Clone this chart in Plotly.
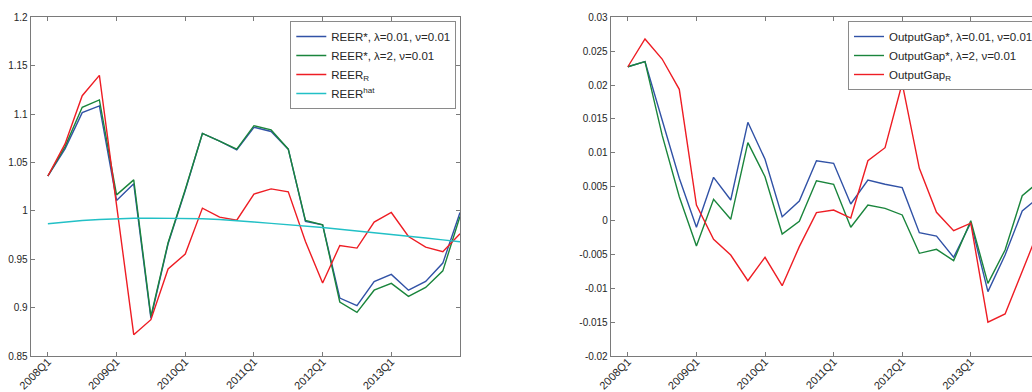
import plotly.graph_objects as go

quarters = [f"{y}Q{q}" for y in range(2008, 2014) for q in range(1, 5)] + ["2014Q1"]

reer_star_l001 = [1.036, 1.064, 1.1015, 1.1084, 1.0107, 1.028, 0.889, 0.966, 1.021, 1.080,
                  1.072, 1.063, 1.0864, 1.082, 1.0637, 0.989, 0.9856, 0.9099, 0.902, 0.927,
                  0.9343, 0.918, 0.927, 0.946, 0.9983]
reer_star_l2 = [1.036, 1.0664, 1.107, 1.1146, 1.0165, 1.032, 0.891, 0.967, 1.022, 1.080,
                1.072, 1.0637, 1.088, 1.0836, 1.0637, 0.990, 0.9856, 0.9058, 0.895, 0.918,
                0.925, 0.9116, 0.9208, 0.938, 0.9941]
reer_r = [1.036, 1.0692, 1.119, 1.140, 1.006, 0.872, 0.8875, 0.940, 0.9553, 1.0028,
          0.9935, 0.9904, 1.0173, 1.0227, 1.0196, 0.9683, 0.9254, 0.9642, 0.9615, 0.9884,
          0.9983, 0.9735, 0.9625, 0.9577, 0.9763]
reer_hat = [0.9866, 0.9885, 0.990, 0.991, 0.992, 0.9923, 0.9925, 0.9925, 0.9922, 0.9918,
            0.991, 0.990, 0.9885, 0.987, 0.9857, 0.9843, 0.9828, 0.981, 0.9793, 0.9775,
            0.976, 0.974, 0.972, 0.970, 0.968]

gap_star_l001 = [0.0227, 0.02345, 0.01484, 0.00623, -0.0010, 0.00638, 0.00303, 0.0145, 0.00904, 0.00057,
                 0.00288, 0.00883, 0.00845, 0.00244, 0.00598, 0.00535, 0.00485, -0.0018, -0.00229, -0.00543,
                 -0.00032, -0.0105, -0.0051, 0.00141, 0.0035]
gap_star_l2 = [0.0227, 0.02345, 0.0126, 0.00352, -0.00376, 0.00313, 0.00018, 0.01149, 0.00647, -0.0020,
               -0.0001, 0.00588, 0.00535, -0.0010, 0.00229, 0.0018, 0.00082, -0.00484, -0.00425, -0.00593,
               -0.00002, -0.00927, -0.00435, 0.00366, 0.0058]
gap_r = [0.0227, 0.0268, 0.02384, 0.01937, 0.00229, -0.00277, -0.0051, -0.00888, -0.00543, -0.00962,
         -0.00386, 0.00116, 0.00155, 0.00037, 0.00883, 0.01075, 0.02026, 0.00771, 0.00121, -0.0015,
         -0.0004, -0.015, -0.0138, -0.00755, -0.0012]

xtick_vals = ["2008Q1", "2009Q1", "2010Q1", "2011Q1", "2012Q1", "2013Q1"]
ytick_left = [0.85, 0.9, 0.95, 1.0, 1.05, 1.1, 1.15, 1.2]
ytick_left_txt = ["0.85", "0.9", "0.95", "1", "1.05", "1.1", "1.15", "1.2"]
ytick_right = [-0.02, -0.015, -0.01, -0.005, 0, 0.005, 0.01, 0.015, 0.02, 0.025, 0.03]
ytick_right_txt = ["-0.02", "-0.015", "-0.01", "-0.005", "0", "0.005", "0.01", "0.015", "0.02", "0.025", "0.03"]

BLUE = "#3152a6"
GREEN = "#1a853c"
RED = "#ee1d24"
CYAN = "#22c0c6"
AX = "#7a7a7a"
TXT = "#262626"
FONT = "Liberation Sans, Arial, Helvetica, sans-serif"

fig = go.Figure()
lw = 1.4

fig.add_trace(go.Scatter(x=quarters, y=reer_star_l001, mode="lines", line=dict(color=BLUE, width=lw),
                         name="REER*, λ=0.01, ν=0.01", legend="legend", xaxis="x", yaxis="y"))
fig.add_trace(go.Scatter(x=quarters, y=reer_star_l2, mode="lines", line=dict(color=GREEN, width=lw),
                         name="REER*, λ=2, ν=0.01", legend="legend", xaxis="x", yaxis="y"))
fig.add_trace(go.Scatter(x=quarters, y=reer_r, mode="lines", line=dict(color=RED, width=lw),
                         name="REER<sub>R</sub>", legend="legend", xaxis="x", yaxis="y"))
fig.add_trace(go.Scatter(x=quarters, y=reer_hat, mode="lines", line=dict(color=CYAN, width=lw),
                         name="REER<sup>hat</sup>", legend="legend", xaxis="x", yaxis="y"))

fig.add_trace(go.Scatter(x=quarters, y=gap_star_l001, mode="lines", line=dict(color=BLUE, width=lw),
                         name="OutputGap*, λ=0.01, ν=0.01", legend="legend2", xaxis="x2", yaxis="y2"))
fig.add_trace(go.Scatter(x=quarters, y=gap_star_l2, mode="lines", line=dict(color=GREEN, width=lw),
                         name="OutputGap*, λ=2, ν=0.01", legend="legend2", xaxis="x2", yaxis="y2"))
fig.add_trace(go.Scatter(x=quarters, y=gap_r, mode="lines", line=dict(color=RED, width=lw),
                         name="OutputGap<sub>R</sub>", legend="legend2", xaxis="x2", yaxis="y2"))

W, H = 1032, 392
ydom = [36 / H, 374.7 / H]

common_x = dict(type="category", tickmode="array", tickvals=xtick_vals, ticktext=xtick_vals,
                tickangle=-45, ticks="inside", ticklen=4, tickcolor=AX, showline=True, linecolor=AX,
                linewidth=1, showgrid=False, zeroline=False, automargin=False, ticklabelstandoff=-6,
                tickfont=dict(family=FONT, size=11, color=TXT))
common_y = dict(ticks="inside", ticklen=4, tickcolor=AX, showline=True, linecolor=AX, linewidth=1,
                showgrid=False, zeroline=False, automargin=False,
                tickfont=dict(family=FONT, size=10, color=TXT))

fig.update_layout(
    width=W, height=H,
    margin=dict(l=0, r=0, t=0, b=0, autoexpand=False),
    paper_bgcolor="white", plot_bgcolor="white",
    template="none",
    font=dict(family=FONT, color=TXT),
    xaxis=dict(common_x, domain=[30.7 / W, 460 / W], range=[-1, 24], mirror="ticks", anchor="y"),
    yaxis=dict(common_y, domain=ydom, range=[0.85, 1.2], tickvals=ytick_left, ticktext=ytick_left_txt,
               mirror="ticks", anchor="x"),
    xaxis2=dict(common_x, domain=[610.7 / W, 1.0], range=[-1, (1032 - 627.3) / 17.17], mirror="ticks",
                anchor="y2"),
    yaxis2=dict(common_y, domain=ydom, range=[-0.02, 0.03], tickvals=ytick_right, ticktext=ytick_right_txt,
                mirror=False, anchor="x2"),
    legend=dict(x=456.3 / W, y=1 - 21 / H, xanchor="right", yanchor="top", bgcolor="white",
                bordercolor="#8a8a8a", borderwidth=1, font=dict(family=FONT, size=11.5, color=TXT),
                tracegroupgap=0, itemwidth=30),
    legend2=dict(x=848 / W, y=1 - 21 / H, xanchor="left", yanchor="top", bgcolor="white",
                 bordercolor="#8a8a8a", borderwidth=1, font=dict(family=FONT, size=11.5, color=TXT),
                 tracegroupgap=0, itemwidth=30),
    showlegend=True,
)

fig.write_html("out.html")
